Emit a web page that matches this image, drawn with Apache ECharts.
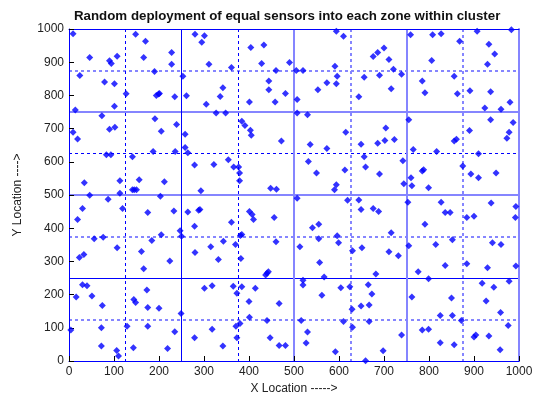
<!DOCTYPE html>
<html>
<head>
<meta charset="utf-8">
<script src="https://cdn.jsdelivr.net/npm/echarts@6/dist/echarts.min.js"></script>
<style>
  html, body { margin: 0; padding: 0; background: #fff; }
  #chart { width: 533px; height: 394px; }
</style>
</head>
<body>
<div id="chart"></div>
<script>
// sensor positions, split by quadrant of the field
const zoneNW = [[9,986],[148,984],[170,963],[280,984],[301,980],[295,960],[404,944],[433,952],
  [46,914],[90,904],[94,896],[107,918],[166,914],[228,929],[228,894],[311,894],[361,884],[428,896],[490,899],
  [190,872],[460,875],[24,860],[253,858],[79,840],[101,835],[444,843],[444,817],
  [127,805],[194,800],[199,804],[201,806],[235,796],[261,799],[342,823],[336,797],[401,780],[458,780],[481,806],
  [305,773],[101,767],[14,756],[327,747],[348,747],
  [73,739],[191,730],[384,722],[391,709],[9,689],[90,698],[102,704],[205,692],[239,712],[258,683],[403,695],[405,680],[19,669],[472,663],
  [258,643],[264,627],[187,631],[236,631],[83,621],[93,621],[141,615],
  [279,590],[322,592],[354,606],[366,584],[377,584],[379,566],[379,543],
  [34,537],[113,543],[156,546],[212,540],[141,516],[145,516],[150,516],[293,513],[448,520],[461,517],[113,505]];

const zoneNE = [[505,875],[520,875],[507,788],[507,747],[594,993],[610,978],[591,888],[596,858],[594,835],[573,838],[553,817],[530,742],
  [676,917],[686,929],[700,943],[711,908],[721,879],[739,864],[690,861],[656,855],[716,820],[644,796],
  [759,983],[808,983],[827,986],[868,963],[806,905],[785,843],[791,808],[856,858],[863,805],
  [907,993],[983,998],[933,954],[946,925],[930,894],[891,814],[937,811],[924,762],[960,758],[980,779],
  [755,727],[615,689],[536,652],[573,640],[532,601],[550,566],[613,575],[594,531],[590,516],
  [649,653],[686,656],[702,664],[723,667],[704,702],[656,615],[659,584],[690,563],[742,603],[744,534],
  [765,637],[817,631],[856,663],[861,668],[785,572],[788,576],[760,552],[762,528],[799,522],[875,587],
  [890,694],[937,727],[987,718],[978,689],[973,671],[910,624],[893,563],[910,552],[949,566]];

const zoneSW = [[46,499],[203,496],[87,487],[30,459],[19,426],[119,459],[175,447],[233,452],[264,449],[288,454],[291,456],[401,450],[407,441],[410,426],[456,432],
  [56,368],[76,373],[279,406],[205,380],[184,363],[247,392],[250,376],[107,341],[161,330],[361,418],[381,378],[384,381],[343,361],[370,351],[315,344],[280,327],[332,306],[382,309],[460,359],
  [23,312],[33,321],[224,301],[166,278],[437,259],[440,264],[443,269],
  [30,230],[40,227],[16,193],[51,196],[74,167],[173,214],[144,185],[148,176],[175,161],[200,159],[301,219],[318,227],[365,225],[373,204],[384,224],[414,219],[400,179],[401,132],[467,173],[249,143],
  [4,93],[72,100],[129,105],[175,105],[235,88],[318,96],[371,105],[380,113],[440,122],
  [279,70],[373,70],[447,70],[72,45],[143,40],[219,38],[342,45],[467,47],[481,47],[106,32],[110,15]];

const zoneSE = [[507,490],[619,484],[644,485],[649,456],[676,459],[688,450],[753,478],[827,478],[836,447],[847,447],[938,476],[993,465],[992,432],[884,432],[900,436],[791,412],
  [541,401],[555,412],[555,368],[596,377],[599,356],[716,386],[513,344],[630,332],[651,341],[711,329],[732,317],[557,297],[567,253],[682,262],
  [755,347],[815,351],[852,365],[941,356],[960,351],[836,288],[884,293],[930,281],[993,286],[776,269],[799,248],
  [520,243],[520,229],[604,221],[624,224],[665,230],[673,202],[562,198],[667,169],[649,166],[629,156],
  [516,122],[530,87],[527,54],[610,119],[630,102],[667,119],[739,78],[592,28],[698,31],[659,1],
  [762,193],[850,190],[825,137],[852,137],[872,122],[785,93],[799,96],[825,55],[856,49],
  [918,234],[944,222],[978,240],[927,181],[959,146],[976,107],[900,72],[904,78],[933,75],[958,34]];

const fieldMax = 1000;
const tickStep = 100;
const zoneStep = 250;
const subStep = 125;

var dark = '#0000ff';
var light = '#8585ff';
var T = 'transparent';

// hidden axes that only draw the zone (solid) and sub-zone (dashed) lines
function lineAxis(pos, step, colors, dashed, width, border) {
  return {
    type: 'value', min: 0, max: fieldMax, interval: step, position: pos,
    axisLine: border ? { show: true, onZero: false, lineStyle: border } : { show: false },
    axisTick: { show: false },
    axisLabel: { show: false },
    splitLine: {
      show: true,
      lineStyle: { color: colors, width: width, type: dashed ? [3, 3] : 'solid' }
    }
  };
}

var labelFont = { color: '#222', fontFamily: 'Arial, Liberation Sans', fontSize: 12 };
var plainNum = function (v) { return String(v); };

var chart = echarts.init(document.getElementById('chart'));
chart.setOption({
  backgroundColor: '#fff',
  animation: false,
  title: {
    text: 'Random deployment of equal sensors into each zone within cluster',
    left: 69,
    top: 5,
    textStyle: { fontFamily: 'Arial, Liberation Sans', fontSize: 13.3, fontWeight: 'bold', color: '#111' }
  },
  grid: { left: 69, right: 14, top: 29, bottom: 33, outerBoundsMode: 'none' },
  xAxis: [
    {
      type: 'value', min: 0, max: fieldMax, interval: tickStep, position: 'bottom',
      name: 'X Location ----->', nameLocation: 'middle', nameGap: 19,
      nameTextStyle: labelFont,
      axisLine: { show: true, onZero: false, lineStyle: { color: dark, width: 1 } },
      axisTick: { inside: true, length: 5, lineStyle: { color: '#000' } },
      axisLabel: Object.assign({ margin: 5, formatter: plainNum }, labelFont),
      splitLine: { show: false }
    },
    lineAxis('bottom', subStep, [T, dark, T, dark, T, T, T, T, T], true, 1),
    lineAxis('bottom', subStep, [T, T, T, T, T, light, T, light, T], true, 2),
    lineAxis('top', zoneStep, [T, dark, T, T, T], false, 1, { color: dark, width: 1 }),
    lineAxis('bottom', zoneStep, [T, T, light, light, T], false, 2)
  ],
  yAxis: [
    {
      type: 'value', min: 0, max: fieldMax, interval: tickStep, position: 'left',
      name: 'Y Location ---->', nameLocation: 'middle', nameGap: 45,
      nameTextStyle: labelFont,
      axisLine: { show: true, onZero: false, lineStyle: { color: dark, width: 1 } },
      axisTick: { inside: true, length: 5, lineStyle: { color: '#000' } },
      axisLabel: Object.assign({ margin: 5, formatter: plainNum }, labelFont),
      splitLine: { show: false }
    },
    lineAxis('left', subStep, [T, T, T, T, T, dark, T, T, T], true, 1),
    lineAxis('left', subStep, [T, light, T, light, T, T, T, light, T], true, 2),
    lineAxis('left', zoneStep, [T, dark, T, T, T], false, 1),
    lineAxis('right', zoneStep, [T, T, light, light, T], false, 2, { color: light, width: 2 })
  ],
  series: [zoneNW, zoneNE, zoneSW, zoneSE].map(function (pts) {
    return {
      type: 'scatter',
      xAxisIndex: 0,
      yAxisIndex: 0,
      data: pts,
      symbol: 'diamond',
      symbolSize: 7,
      itemStyle: { color: '#0000ff' },
      silent: true
    };
  })
});
</script>
</body>
</html>
